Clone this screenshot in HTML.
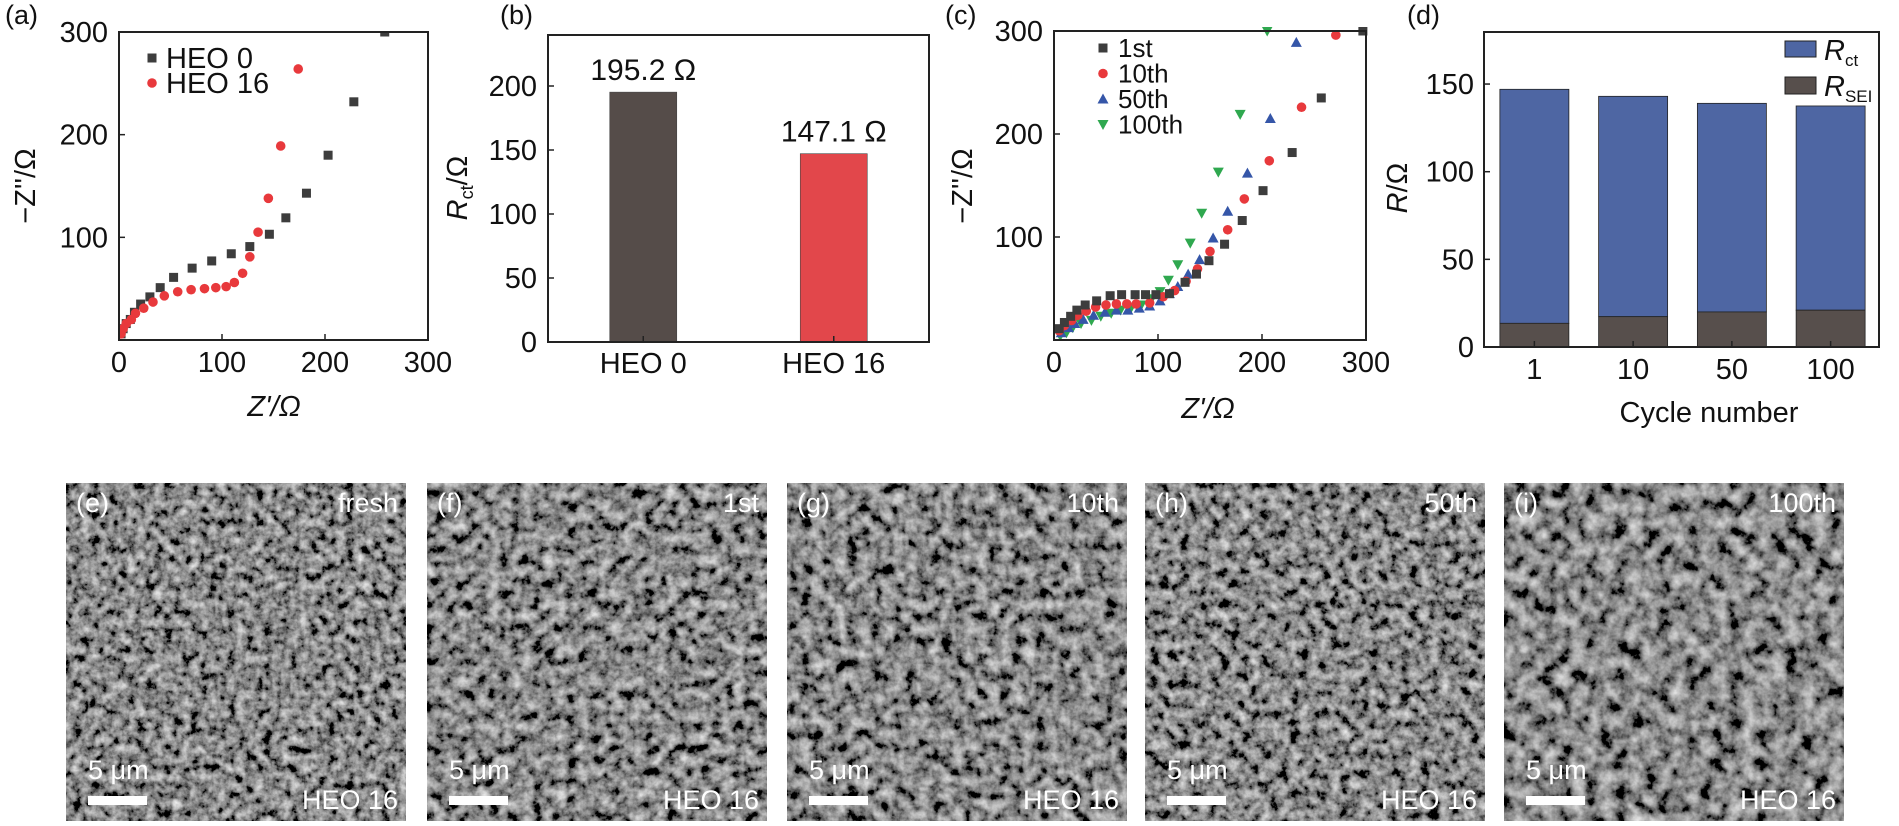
<!DOCTYPE html>
<html><head><meta charset="utf-8">
<style>
html,body{margin:0;padding:0;background:#fff;}
body{width:1899px;height:826px;overflow:hidden;position:relative;font-family:"Liberation Sans",Arial,sans-serif;}
svg{position:absolute;left:0;top:0;}
text{font-family:"Liberation Sans",Arial,sans-serif;}
</style></head>
<body>
<svg id="fig" width="1899" height="826" viewBox="0 0 1899 826" xmlns="http://www.w3.org/2000/svg">
<defs>
<filter id="sem0" x="0" y="0" width="100%" height="100%"><feTurbulence type="fractalNoise" baseFrequency="0.11" numOctaves="4" seed="3"/><feColorMatrix type="matrix" values="1.1 0.4 0 0 -0.5  1.1 0.4 0 0 -0.5  1.1 0.4 0 0 -0.5  0 0 0 0 1"/></filter>
<filter id="sem1" x="0" y="0" width="100%" height="100%"><feTurbulence type="fractalNoise" baseFrequency="0.09" numOctaves="4" seed="11"/><feColorMatrix type="matrix" values="1.1 0.4 0 0 -0.5  1.1 0.4 0 0 -0.5  1.1 0.4 0 0 -0.5  0 0 0 0 1"/></filter>
<filter id="sem2" x="0" y="0" width="100%" height="100%"><feTurbulence type="fractalNoise" baseFrequency="0.085" numOctaves="4" seed="23"/><feColorMatrix type="matrix" values="1.1 0.4 0 0 -0.5  1.1 0.4 0 0 -0.5  1.1 0.4 0 0 -0.5  0 0 0 0 1"/></filter>
<filter id="sem3" x="0" y="0" width="100%" height="100%"><feTurbulence type="fractalNoise" baseFrequency="0.1" numOctaves="4" seed="37"/><feColorMatrix type="matrix" values="1.1 0.4 0 0 -0.5  1.1 0.4 0 0 -0.5  1.1 0.4 0 0 -0.5  0 0 0 0 1"/></filter>
<filter id="sem4" x="0" y="0" width="100%" height="100%"><feTurbulence type="fractalNoise" baseFrequency="0.07" numOctaves="4" seed="51"/><feColorMatrix type="matrix" values="1.1 0.4 0 0 -0.5  1.1 0.4 0 0 -0.5  1.1 0.4 0 0 -0.5  0 0 0 0 1"/></filter>
</defs>
</svg>
<script>
// ---------- Panel (a) data ----------
const aHeo0X = [258,228,203,182,162,146,127,109,90,71,53,40,30,21,15,11,7,4,2];
const aHeo0Y = [300,232,180,143,119,103,91,84,77,70,61,51,42,35,27,20,16,11,6];
const aHeo16X = [174,157,145,135,127,120,112,104,94,83,70,57,44,33,24,16,12,7,4,2];
const aHeo16Y = [264,189,138,105,81,65,56,52,51,50,49,47,43,37,31,26,20,16,11,6];
const aTicks = [0,100,200,300];
// ---------- Panel (b) data ----------
const bCategories = ["HEO 0","HEO 16"];
const bValues = [195.2,147.1];
const bLabels = ["195.2 Ω","147.1 Ω"];
const bTicks = [0,50,100,150,200];
// ---------- Panel (c) data ----------
const c1X = [297,257,229,201,181,164,149,137,126,111,98,88,78,65,54,41,30,22,16,10,5];
const c1Y = [300,235,182,145,116,93,77,64,56,45,44,44,44,44,43,38,34,29,23,17,11];
const c10X = [271,238,207,183,167,150,138,127,116,105,92,79,70,60,50,40,31,23,17,10,5];
const c10Y = [296,226,174,137,107,86,69,57,48,42,36,35,35,35,34,32,28,24,19,14,9];
const c50X = [233,208,186,167,153,140,129,119,111,102,92,82,71,60,49,38,28,20,14,7];
const c50Y = [289,215,162,125,99,78,64,52,45,38,33,31,29,29,27,24,20,16,12,7];
const c100X = [205,179,158,142,131,119,110,102,94,84,74,64,55,45,36,26,18,12,6];
const c100Y = [300,219,163,123,94,73,58,47,40,34,31,29,26,23,19,16,12,7,4];
const cTicks = [0,100,200,300];
// ---------- Panel (d) data ----------
const dCategories = ["1","10","50","100"];
const dTotal = [147,143,139,137.5];
const dSEI = [13.5,17.3,20,21];
const dTicks = [0,50,100,150];

const NS="http://www.w3.org/2000/svg";
const svg=document.getElementById('fig');
function mk(tag,attrs,parent){const e=document.createElementNS(NS,tag);for(const k in attrs)e.setAttribute(k,attrs[k]);(parent||svg).appendChild(e);return e;}
function txt(s,x,y,size,anchor,parent,extra){const e=mk('text',Object.assign({x:x,y:y,'font-size':size,'text-anchor':anchor||'start',fill:'#111'},extra||{}),parent);e.textContent=s;return e;}

function marker(g,type,cx,cy,color){
  let e;
  if(type==='sq'){e=mk('rect',{x:cx-4.5,y:cy-4.5,width:9,height:9,fill:color},g);}
  else if(type==='ci'){e=mk('circle',{cx:cx,cy:cy,r:4.8,fill:color},g);}
  else if(type==='up'){e=mk('polygon',{points:`${cx},${cy-5.5} ${cx+5.5},${cy+4.5} ${cx-5.5},${cy+4.5}`,fill:color},g);}
  else {e=mk('polygon',{points:`${cx},${cy+5.5} ${cx+5.5},${cy-4.5} ${cx-5.5},${cy-4.5}`,fill:color},g);}
  return e;
}

// ================= Panel A =================
(function(){
  const L=119,R=428,T=32,B=340;
  const xs=v=>L+v*(R-L)/300, ys=v=>B-v*(B-T)/300;
  const g=mk('g',{});
  
  
  const lab=txt('(a)',5,24,27,'start',g);  
  const clip=mk('clipPath',{id:'clipA'},g); mk('rect',{x:L,y:T,width:R-L,height:B-T},clip);
  const pts=mk('g',{'clip-path':'url(#clipA)'},g);
  aHeo0X.forEach((v,i)=>{const m=marker(pts,'sq',xs(v),ys(aHeo0Y[i]),'#3d3d3d');});
  aHeo16X.forEach((v,i)=>{const m=marker(pts,'ci',xs(v),ys(aHeo16Y[i]),'#e8393c');});
  mk('rect',{x:L,y:T,width:R-L,height:B-T,fill:'none',stroke:'#222','stroke-width':2},g);
  aTicks.forEach(t=>{
    if(t>0&&t<300){mk('line',{x1:xs(t),x2:xs(t),y1:B,y2:B-6,stroke:'#222','stroke-width':1.5},g);mk('line',{x1:L,x2:L+6,y1:ys(t),y2:ys(t),stroke:'#222','stroke-width':1.5},g);}
    const xl=txt(String(t),xs(t),372,29,'middle',g);  
    if(t>0){const yl=txt(String(t),108,ys(t)+10,29,'end',g);  }
  });
  const xt=txt("Z'/Ω",274,416,29,'middle',g,{'font-style':'italic'});  
  const yt=txt("−Z''/Ω",0,0,29,'middle',g,{transform:'translate(35,186) rotate(-90)'});  
  const lg=mk('g',{},g);  
  marker(lg,'sq',152,58,'#3d3d3d'); txt('HEO 0',166,68,29,'start',lg);
  marker(lg,'ci',152,83,'#e8393c'); txt('HEO 16',166,93,29,'start',lg);
})();

// ================= Panel B =================
(function(){
  const L=548,R=929,T=35,B=342;
  const ys=v=>B-v*1.28;
  const step=(R-L)/bCategories.length;
  const g=mk('g',{});
  
  
  const lab=txt('(b)',500,24,27,'start',g);  
  const colors=['#554c49','#e2474b'];
  bValues.forEach((v,i)=>{
    const cx=L+step*(i+0.5);
    const r=mk('rect',{x:cx-33.5,y:ys(v),width:67,height:B-ys(v),fill:colors[i],stroke:'#444','stroke-width':0.6},g);
     
    const vl=txt(bLabels[i],cx,ys(v)-12,30,'middle',g);  
    mk('line',{x1:cx,x2:cx,y1:B,y2:B-6,stroke:'#222','stroke-width':1.5},g);
    const xl=txt(bCategories[i],cx,373,29,'middle',g);  
  });
  mk('rect',{x:L,y:T,width:R-L,height:B-T,fill:'none',stroke:'#222','stroke-width':2},g);
  bTicks.forEach(t=>{
    if(t>0)mk('line',{x1:L,x2:L+6,y1:ys(t),y2:ys(t),stroke:'#222','stroke-width':1.5},g);
    const yl=txt(String(t),537,ys(t)+10,29,'end',g);  
  });
  const yt=mk('text',{x:0,y:0,'font-size':29,'text-anchor':'middle',fill:'#111',transform:'translate(467,188) rotate(-90)'},g);
   
  yt.innerHTML='<tspan font-style="italic">R</tspan><tspan font-size="18" dy="6">ct</tspan><tspan dy="-6">/Ω</tspan>';
})();

// ================= Panel C =================
(function(){
  const L=1054,R=1366,T=31,B=340;
  const xs=v=>L+v*(R-L)/300, ys=v=>B-v*(B-T)/300;
  const g=mk('g',{});
  
  
  const lab=txt('(c)',945,24,27,'start',g);  
  const clip=mk('clipPath',{id:'clipC'},g); mk('rect',{x:L,y:T-4,width:R-L+4,height:B-T+4},clip);
  const pts=mk('g',{'clip-path':'url(#clipC)'},g);
  const series=[[c100X,c100Y,'dn','#2fa84f','cycle100-point'],[c50X,c50Y,'up','#3556a8','cycle50-point'],[c10X,c10Y,'ci','#e8393c','cycle10-point'],[c1X,c1Y,'sq','#3d3d3d','cycle1-point']];
  series.forEach(s=>{s[0].forEach((v,i)=>{const m=marker(pts,s[2],xs(v),ys(s[1][i]),s[3]);});});
  mk('rect',{x:L,y:T,width:R-L,height:B-T,fill:'none',stroke:'#222','stroke-width':2},g);
  cTicks.forEach(t=>{
    if(t>0&&t<300){mk('line',{x1:xs(t),x2:xs(t),y1:B,y2:B-6,stroke:'#222','stroke-width':1.5},g);mk('line',{x1:L,x2:L+6,y1:ys(t),y2:ys(t),stroke:'#222','stroke-width':1.5},g);}
    const xl=txt(String(t),xs(t),372,29,'middle',g);  
    if(t>0){const yl=txt(String(t),1043,ys(t)+10,29,'end',g);  }
  });
  const xt=txt("Z'/Ω",1208,418,29,'middle',g,{'font-style':'italic'});  
  const yt=txt("−Z''/Ω",0,0,29,'middle',g,{transform:'translate(972,186) rotate(-90)'});  
  const lg=mk('g',{},g);  
  const names=['1st','10th','50th','100th'],types=['sq','ci','up','dn'],cols=['#3d3d3d','#e8393c','#3556a8','#2fa84f'];
  names.forEach((n,i)=>{const y=48+i*25.5;marker(lg,types[i],1103,y,cols[i]);txt(n,1118,y+9,26,'start',lg);});
})();

// ================= Panel D =================
(function(){
  const L=1484,R=1879,T=32,B=347;
  const ys=v=>B-v*1.753;
  const step=(R-L)/dCategories.length;
  const g=mk('g',{});
  
  
  const lab=txt('(d)',1407,24,27,'start',g);  
  dCategories.forEach((c,i)=>{
    const cx=L+step*(i+0.5)+1;
    const r1=mk('rect',{x:cx-34.5,y:ys(dTotal[i]),width:69,height:ys(dSEI[i])-ys(dTotal[i]),fill:'#4e66a3',stroke:'#222','stroke-width':0.8},g);
     
    const r2=mk('rect',{x:cx-34.5,y:ys(dSEI[i]),width:69,height:B-ys(dSEI[i]),fill:'#574f4c',stroke:'#222','stroke-width':0.8},g);
     
    mk('line',{x1:cx,x2:cx,y1:B,y2:B-6,stroke:'#222','stroke-width':1.5},g);
    const xl=txt(c,cx,379,29,'middle',g);  
  });
  mk('rect',{x:L,y:T,width:R-L,height:B-T,fill:'none',stroke:'#222','stroke-width':2},g);
  dTicks.forEach(t=>{
    if(t>0)mk('line',{x1:L,x2:L+6,y1:ys(t),y2:ys(t),stroke:'#222','stroke-width':1.5},g);
    const yl=txt(String(t),1474,ys(t)+10,29,'end',g);  
  });
  const xt=txt('Cycle number',1709,422,29,'middle',g);  
  const yt=mk('text',{x:0,y:0,'font-size':29,'text-anchor':'middle',fill:'#111',transform:'translate(1407,188) rotate(-90)'},g);
   
  yt.innerHTML='<tspan font-style="italic">R</tspan>/Ω';
  const lg=mk('g',{},g);  
  mk('rect',{x:1785,y:41,width:31,height:16,fill:'#4e66a3',stroke:'#222','stroke-width':1},lg);
  mk('rect',{x:1785,y:77,width:31,height:17,fill:'#574f4c',stroke:'#222','stroke-width':1},lg);
  const t1=mk('text',{x:1824,y:60,'font-size':29,fill:'#111'},lg); t1.innerHTML='<tspan font-style="italic">R</tspan><tspan font-size="17" dy="6">ct</tspan>';
  const t2=mk('text',{x:1824,y:96,'font-size':29,fill:'#111'},lg); t2.innerHTML='<tspan font-style="italic">R</tspan><tspan font-size="17" dy="6">SEI</tspan>';
})();

// ================= SEM images =================
const semLefts=[66,427,787,1145,1504];
const semLetters=['(e)','(f)','(g)','(h)','(i)'];
const semStates=['fresh','1st','10th','50th','100th'];
semLefts.forEach((x0,i)=>{
  const g=mk('g',{});
  
  
  const w=340,y0=483,h=338;
  mk('rect',{x:x0,y:y0,width:w,height:h,fill:'#5e5e5e'},g);
  mk('rect',{x:x0,y:y0,width:w,height:h,filter:'url(#sem'+i+')'},g);
  txt(semLetters[i],x0+10,y0+29,27,'start',g,{fill:'#fff'});
  txt(semStates[i],x0+w-8,y0+29,27,'end',g,{fill:'#fff'});
  txt('5 μm',x0+22,y0+296,27,'start',g,{fill:'#fff'});
  mk('rect',{x:x0+22,y:y0+313,width:59,height:9,fill:'#fff'},g);
  txt('HEO 16',x0+w-8,y0+326,27,'end',g,{fill:'#fff'});
});
</script>
</body></html>
